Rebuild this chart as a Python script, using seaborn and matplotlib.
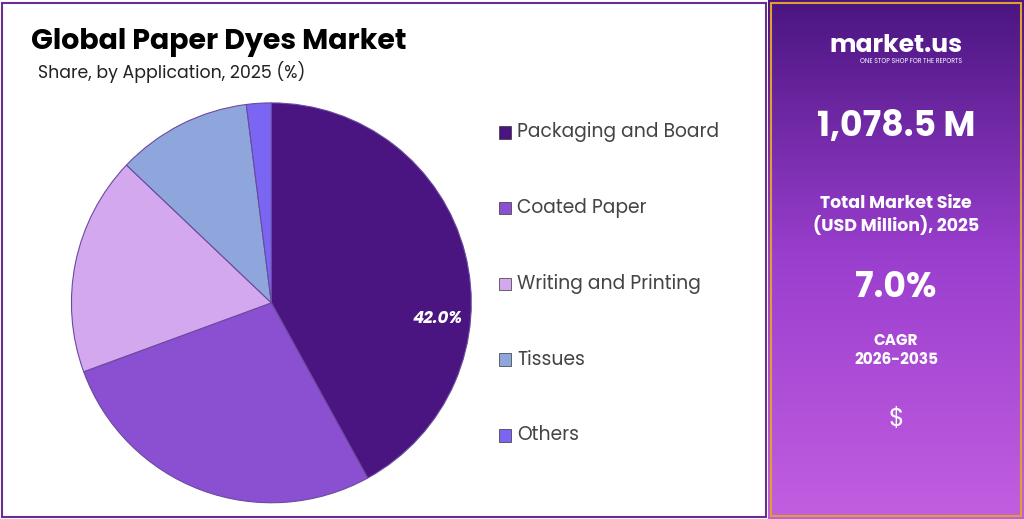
import matplotlib
matplotlib.use("Agg")
import matplotlib.pyplot as plt
import seaborn as sns
import numpy as np
from matplotlib.patches import Rectangle
from matplotlib.colors import LinearSegmentedColormap

sns.set_theme(style="white")
plt.rcParams['font.family'] = ['Poppins', 'Lato', 'DejaVu Sans']

categories = ["Packaging and Board", "Coated Paper", "Writing and Printing", "Tissues", "Others"]
shares = [42.0, 27.4, 17.7, 10.9, 2.0]
colors = ["#4a1580", "#8b50d2", "#d3a8ee", "#8fa6dc", "#7a66f2"]

fig = plt.figure(figsize=(10.24, 5.19), dpi=100)
fig.patch.set_facecolor("white")

ax = fig.add_axes([0.02, -0.065, 0.49, 0.963])
wedges, _ = ax.pie(shares, colors=colors, startangle=90, counterclock=False,
                   wedgeprops=dict(edgecolor="#6a4aa0", linewidth=0.8))
ax.text(0.83, -0.08, "42.0%", color="white", fontsize=12, fontweight="bold",
        style="italic", ha="center", va="center")
ax.set_aspect("equal")

fig.add_artist(Rectangle((0.002, 0.004), 0.746, 0.99, transform=fig.transFigure,
                         fill=False, edgecolor="#6a2c91", lw=1.5))

fig.text(0.03, 0.905, "Global Paper Dyes Market", fontsize=20.5, fontweight="bold", color="black")
fig.text(0.037, 0.85, "Share, by Application, 2025 (%)", fontsize=12.5, color="#222222")

for i, (c, col) in enumerate(zip(categories, colors)):
    y = 0.745 - i * 0.146
    fig.add_artist(Rectangle((0.487, y - 0.012), 0.012, 0.024, transform=fig.transFigure,
                             facecolor=col, edgecolor="#333333", lw=0.5))
    fig.text(0.505, y, c, fontsize=13.5, color="#444444", va="center")

rax = fig.add_axes([0.75, 0.0, 0.25, 1.0])
grad = np.linspace(0, 1, 256).reshape(-1, 1)
cmap = LinearSegmentedColormap.from_list("p", ["#4a1580", "#9b3fcf", "#c25ee0"])
rax.imshow(grad, aspect="auto", cmap=cmap, extent=[0, 1, 0, 1], origin="upper")
rax.set_xlim(0, 1); rax.set_ylim(0, 1); rax.axis("off")
rax.add_patch(Rectangle((0.01, 0.005), 0.98, 0.99, fill=False, edgecolor="#e0a030", lw=1.5))
rax.text(0.5, 0.9, "market.us", color="white", fontsize=18, fontweight="bold", ha="center")
rax.text(0.56, 0.878, "ONE STOP SHOP FOR THE REPORTS", color="white", fontsize=4.5, ha="center")
rax.text(0.5, 0.755, "1,078.5 M", color="white", fontsize=25, fontweight="bold", ha="center", va="center")
rax.text(0.5, 0.585, "Total Market Size\n(USD Million), 2025", color="white", fontsize=12.5,
         fontweight="bold", ha="center", va="center")
rax.text(0.5, 0.445, "7.0%", color="white", fontsize=25, fontweight="bold", ha="center", va="center")
rax.text(0.5, 0.325, "CAGR\n2026-2035", color="white", fontsize=11, fontweight="bold",
         ha="center", va="center")
rax.text(0.5, 0.19, "$", color="white", fontsize=18, ha="center", va="center")

fig.savefig("out.png", dpi=100)
